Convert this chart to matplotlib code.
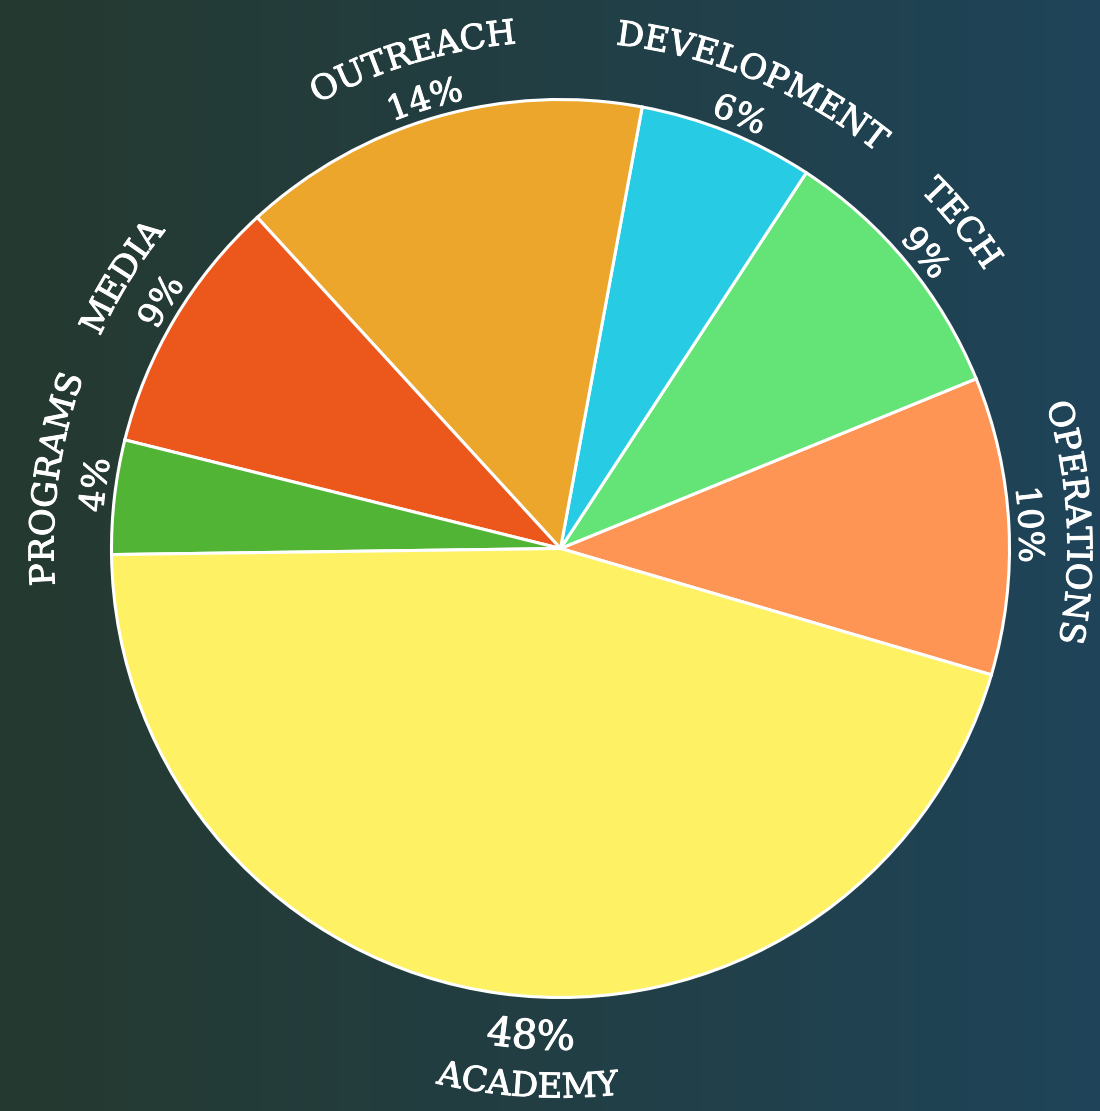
import numpy as np
import matplotlib
matplotlib.use("Agg")
import matplotlib.pyplot as plt
import matplotlib.patheffects as pe
from matplotlib.colors import LinearSegmentedColormap
from matplotlib.font_manager import FontProperties

# ── data ──────────────────────────────────────────────────────────────────────
# order: counter-clockwise, starting at the OPERATIONS/ACADEMY boundary
labels = ["OPERATIONS", "TECH", "DEVELOPMENT", "OUTREACH", "MEDIA", "PROGRAMS", "ACADEMY"]
shares = [10.7, 9.6, 6.3, 14.7, 9.3, 4.1, 45.2]          # drawn slice sizes
pct_text = ["10%", "9%", "6%", "14%", "9%", "4%", "48%"]  # printed labels
colors = ["#fe9555", "#64e476", "#27cce4", "#eca62c", "#ec581c", "#52b434", "#fef164"]

# ── figure in pixel coordinates ──────────────────────────────────────────────
W, H = 1100, 1111
fig = plt.figure(figsize=(W / 100, H / 100), dpi=100)
ax = fig.add_axes([0, 0, 1, 1])

grad = np.linspace(0, 1, 256).reshape(1, -1)
bg = LinearSegmentedColormap.from_list("bg", ["#25392f", "#1f4459"])
ax.imshow(grad, extent=[0, W, 0, H], aspect="auto", cmap=bg, zorder=0)

cx, cy, R = 560.5, H - 548.5, 449
start = -16.34
wedges, _ = ax.pie(shares, colors=colors, startangle=start, counterclock=True,
                   radius=R, center=(cx, cy),
                   wedgeprops=dict(edgecolor="white", linewidth=2.2))
for w in wedges:
    w.set_zorder(2)

ax.set_xlim(0, W)
ax.set_ylim(0, H)
ax.set_aspect("equal")
ax.axis("off")

# ── curved labels ────────────────────────────────────────────────────────────
renderer = fig.canvas.get_renderer()
thicken = [pe.withStroke(linewidth=0.7, foreground="white")]


def text_w(s, fp):
    if not s:
        return 0.0
    return renderer.get_text_width_height_descent(s, fp, ismath=False)[0]


def arc_text(s, theta, r, size, flip):
    fp = FontProperties(family="DejaVu Serif", size=size)
    total = text_w(s, fp)
    sign = 1 if flip else -1
    a0 = np.radians(theta) - sign * total / (2 * r)
    for i, ch in enumerate(s):
        mid = (text_w(s[:i], fp) + text_w(s[:i + 1], fp)) / 2
        a = a0 + sign * mid / r
        rot = np.degrees(a) + (90 if flip else -90)
        ax.text(cx + r * np.cos(a), cy + r * np.sin(a), ch, fontproperties=fp,
                rotation=rot, rotation_mode="anchor", ha="center", va="baseline",
                color="white", zorder=3, path_effects=thicken)


# small nudges so labels sit where the original put them
angle_shift = {"ACADEMY": 4.3, "OUTREACH": 0.8, "MEDIA": -1.0, "PROGRAMS": -1.2,
               "TECH": -0.5, "DEVELOPMENT": -0.6}
total = sum(shares)
acc = start
for name, v, pt in zip(labels, shares, pct_text):
    span = 360 * v / total
    mid = acc + span / 2 + angle_shift.get(name, 0)
    acc += span
    flip = np.sin(np.radians(mid)) < -0.3
    if flip:
        arc_text(pt, mid, 501, 29, True)
        arc_text(name, mid, 549, 24.5, True)
    else:
        arc_text(pt, mid, 459, 24.5, False)
        arc_text(name, mid, 507, 24.5, False)

fig.savefig("out.png", dpi=100)
